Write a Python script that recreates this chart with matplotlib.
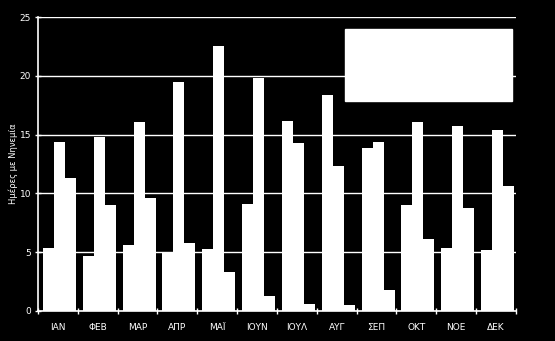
import numpy as np
import matplotlib.pyplot as plt
from matplotlib.patches import Rectangle

months = ["ΙΑΝ", "ΦΕΒ", "ΜΑΡ", "ΑΠΡ", "ΜΑΪ", "ΙΟΥΝ", "ΙΟΥΛ", "ΑΥΓ", "ΣΕΠ", "ΟΚΤ", "ΝΟΕ", "ΔΕΚ"]
series_1 = [5.4, 4.7, 5.6, 5.0, 5.3, 9.1, 16.2, 18.4, 13.9, 9.0, 5.4, 5.2]
series_2 = [14.4, 14.8, 16.1, 19.5, 22.5, 19.8, 14.3, 12.3, 14.4, 16.1, 15.7, 15.4]
series_3 = [11.3, 9.0, 9.6, 5.8, 3.3, 1.3, 0.6, 0.5, 1.8, 6.1, 8.8, 10.6]
y_ticks = [0, 5, 10, 15, 20, 25]

fig = plt.figure(figsize=(5.55, 3.41), dpi=100, facecolor="black")
ax = fig.add_axes([0.0685, 0.088, 0.861, 0.862], facecolor="black")

x = np.arange(len(months))
w = 0.276
for i, vals in enumerate([series_1, series_2, series_3]):
    ax.bar(x + (i - 1) * w + 0.04, vals, width=w, color="white", linewidth=0, zorder=3)

ax.set_xlim(-0.5, 11.5)
ax.set_ylim(0, 25)
ax.set_yticks(y_ticks)
ax.set_yticklabels([str(t) for t in y_ticks])
ax.yaxis.grid(True, color="white", linewidth=1.0, zorder=0)

ax.set_xticks(x)
ax.set_xticklabels(months)
ax.set_xticks(np.arange(-0.5, 12, 1), minor=True)
ax.tick_params(axis="x", which="major", length=0, pad=9, colors="white", labelsize=6.5)
ax.tick_params(axis="x", which="minor", length=4, width=1, color="white", direction="inout")
ax.tick_params(axis="y", length=4, width=1, color="white", direction="inout", pad=3,
               labelcolor="white", labelsize=6.5)

for s in ["top", "right"]:
    ax.spines[s].set_visible(False)
for s in ["left", "bottom"]:
    ax.spines[s].set_color("white")
    ax.spines[s].set_linewidth(1.2)

ax.set_ylabel("Ημέρες με Νηνεμία", color="white", fontsize=6, labelpad=1)

# legend box (text not visible in the reference)
ax.add_patch(Rectangle((0.642, 0.714), 0.35, 0.245, transform=ax.transAxes,
                       facecolor="white", edgecolor="white", zorder=5, clip_on=False))

fig.savefig("out.png", dpi=100, facecolor="black")
